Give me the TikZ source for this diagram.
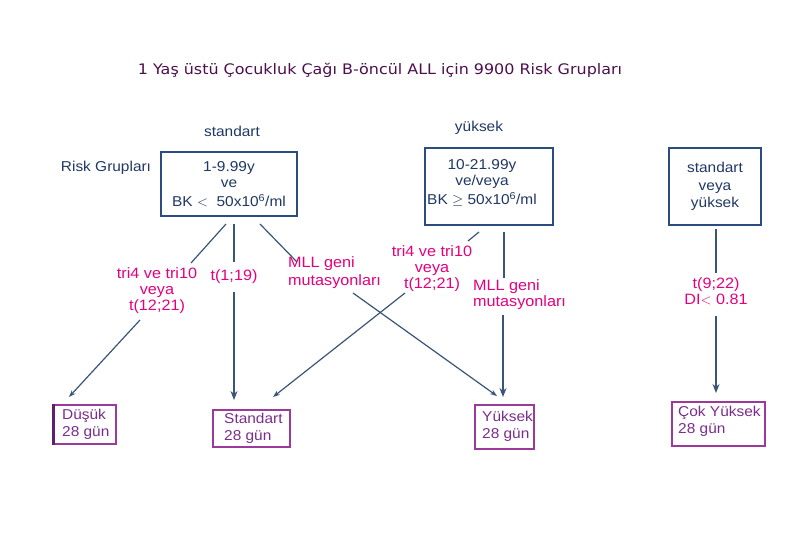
\documentclass[tikz,border=0pt]{standalone}
\usepackage{fontspec}
\usetikzlibrary{arrows.meta}
\setmainfont{Liberation Sans}
\newfontfamily\diagfont[FakeStretch=1.08]{Liberation Sans}
\newfontfamily\titlefont[FakeStretch=1.1]{DejaVu Sans}
\definecolor{navy}{HTML}{1F3864}
\definecolor{boxblue}{HTML}{2B4C7E}
\definecolor{linec}{HTML}{3B5578}
\definecolor{pinkc}{HTML}{E5007D}
\definecolor{ptext}{HTML}{7A2D8C}
\definecolor{pboxc}{HTML}{9B3A9B}
\definecolor{pdark}{HTML}{5E1F6E}
\definecolor{titlec}{HTML}{4D0F4D}
\begin{document}
\begin{tikzpicture}[x=1pt,y=-1pt,
  bluebox/.style={draw=boxblue, line width=2pt, inner sep=0pt, align=center, text=navy,
    font=\diagfont\fontsize{14.3}{16}\selectfont},
  bluetext/.style={inner sep=0pt, align=center, text=navy, font=\diagfont\fontsize{14.3}{16}\selectfont},
  pinklbl/.style={inner sep=0pt, align=center, text=pinkc, font=\diagfont\fontsize{15}{16}\selectfont},
  pinkleft/.style={pinklbl, align=left, anchor=west},
  conn/.style={draw=linec, line width=1.2pt},
  arr/.style={conn, -{Stealth[length=7pt,width=5pt]}},
  bigarr/.style={conn, -{Stealth[length=9pt,width=7pt]}},
  pbox/.style={draw=pboxc, line width=1.5pt, anchor=north west, inner sep=0pt},
  ptxt/.style={text=ptext, align=left, anchor=west, inner sep=0pt,
    font=\diagfont\fontsize{14.3}{17}\selectfont}
]
\useasboundingbox[fill=white] (0,0) rectangle (810,540);

% title
\node[font=\titlefont\fontsize{14.5}{17}\selectfont, text=titlec] (title) at (380,70)
  {1 Yaş üstü Çocukluk Çağı B-öncül ALL için 9900 Risk Grupları};

% header labels
\node[bluetext] (hstd) at (232,131) {standart};
\node[bluetext] (hyuk) at (479,128) {yüksek};
\node[bluetext] (risk) at (106,168) {Risk Grupları};

% top boxes
\node[bluebox, minimum width=136, minimum height=64] (b1) at (229,184)
  {1-9.99y\\ve\\[3pt]BK $<$\ \ 50x10\textsuperscript{6}/ml};
\node[bluebox, minimum width=128, minimum height=77] (b2) at (489,186.5) {};
\node[bluetext] (b2t) at (482,183)
  {10-21.99y\\ve/veya\\[3pt]BK $\geq$ 50x10\textsuperscript{6}/ml};
\node[bluebox, minimum width=92, minimum height=77, font=\diagfont\fontsize{14.3}{17.5}\selectfont] (b3) at (715,186.5)
  {standart\\veya\\yüksek};

% pink labels
\node[pinklbl] (l1) at (157,291) {tri4 ve tri10\\veya\\t(12;21)};
\node[pinklbl] (t119) at (234,277) {t(1;19)};
\node[pinkleft, font=\diagfont\fontsize{15}{18}\selectfont] (mll1) at (288,273) {MLL geni\\mutasyonları};
\node[pinklbl] (l2) at (432,269) {tri4 ve tri10\\veya\\t(12;21)};
\node[pinkleft] (mll2) at (473,295) {MLL geni\\mutasyonları};
\node[pinklbl, font=\diagfont\fontsize{15}{15.5}\selectfont] (t922) at (716,291.5) {t(9;22)\\DI$<$\ 0.81};

% bottom boxes
\node[pbox, minimum width=62, minimum height=39] (dus) at (53,404) {};
\draw[pdark, line width=3pt] (dus.north west) -- (dus.south west);
\node[ptxt] (dust) at (62,424) {Düşük\\28 gün};
\node[pbox, minimum width=77, minimum height=37] (std) at (212,409) {};
\node[ptxt] (stdt) at (224,428) {Standart\\28 gün};
\node[pbox, minimum width=59, minimum height=44] (yuk) at (474,404) {};
\node[ptxt] (yukt) at (482,426.5) {Yüksek\\28 gün};
\node[pbox, minimum width=93, minimum height=44] (cok) at (671,401) {};
\node[ptxt] (cokt) at (678,421.5) {Çok Yüksek\\28 gün};

% connector end points
\coordinate (b1a) at (226,224);  \coordinate (l1top) at (191,263);
\coordinate (b1b) at (234,224);  \coordinate (t119top) at (234,262);
\coordinate (b1c) at (260,224);  \coordinate (mll1top) at (297,262);
\coordinate (l1bot) at (140,320); \coordinate (dustip) at (69,397);
\coordinate (t119bot) at (234,292); \coordinate (stdtip) at (234,400);
\coordinate (mll1bot) at (353,293); \coordinate (yuktipA) at (497,396);
\coordinate (b2a) at (479,232); \coordinate (l2top) at (468,241);
\coordinate (b2b) at (504,232); \coordinate (mll2top) at (504,278);
\coordinate (l2bot) at (405,293); \coordinate (stdtipB) at (273,397);
\coordinate (mll2bot) at (503,315); \coordinate (yuktipB) at (503,397);
\coordinate (b3a) at (716,229); \coordinate (t922top) at (716,273);
\coordinate (t922bot) at (716,316); \coordinate (coktip) at (716,393);

% connectors
\draw[conn] (b1a) -- (l1top);
\draw[conn] (b1b) -- (t119top);
\draw[conn] (b1c) -- (mll1top);
\draw[arr] (l1bot) -- (dustip);
\draw[bigarr] (t119bot) -- (stdtip);
\draw[arr] (mll1bot) -- (yuktipA);
\draw[conn] (b2a) -- (l2top);
\draw[conn] (b2b) -- (mll2top);
\draw[arr] (l2bot) -- (stdtipB);
\draw[bigarr] (mll2bot) -- (yuktipB);
\draw[conn] (b3a) -- (t922top);
\draw[bigarr] (t922bot) -- (coktip);
\end{tikzpicture}
\end{document}
